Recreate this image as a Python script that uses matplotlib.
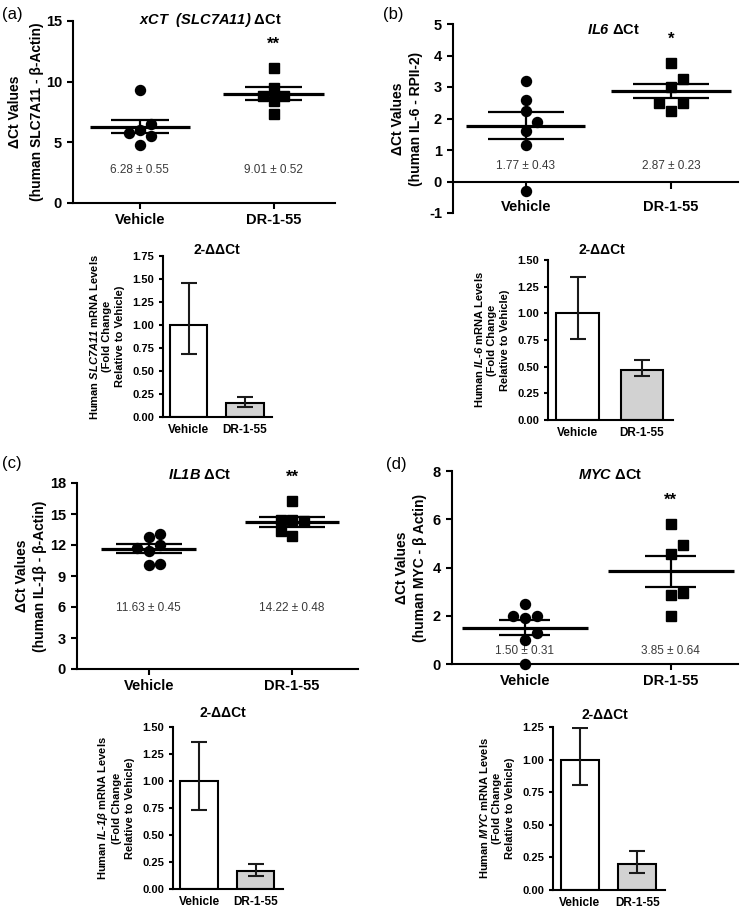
import matplotlib.pyplot as plt
import matplotlib.transforms as mtransforms
import numpy as np

plt.rcParams["font.family"] = ["Liberation Sans", "DejaVu Sans"]
plt.rcParams["font.weight"] = "bold"
plt.rcParams["axes.labelweight"] = "bold"
plt.rcParams["axes.unicode_minus"] = False
plt.rcParams["mathtext.fontset"] = "custom"
plt.rcParams["mathtext.rm"] = "Liberation Sans:bold"
plt.rcParams["mathtext.bf"] = "Liberation Sans:bold"
plt.rcParams["mathtext.it"] = "Liberation Sans:italic:bold"
plt.rcParams["mathtext.bfit"] = "Liberation Sans:italic:bold"

groups = ["Vehicle", "DR-1-55"]

# (a) xCT / SLC7A11
a_vehicle = [9.3, 6.0, 6.5, 5.8, 5.5, 4.8]
a_dr155 = [11.1, 9.5, 8.4, 8.8, 8.8, 7.3]
a_mean = [6.28, 9.01]
a_sem = [0.55, 0.52]
a_stars = ["", "**"]
a_fold = [1.00, 0.15]
a_fold_lo = [0.68, 0.105]
a_fold_hi = [1.46, 0.215]

# (b) IL6
b_vehicle = [3.2, 2.6, 2.25, 1.6, 1.9, 1.15, -0.3]
b_dr155 = [3.75, 3.0, 3.25, 2.25, 2.5, 2.5]
b_mean = [1.77, 2.87]
b_sem = [0.43, 0.23]
b_stars = ["", "*"]
b_fold = [1.00, 0.47]
b_fold_lo = [0.757, 0.408]
b_fold_hi = [1.344, 0.559]

# (c) IL1B
c_vehicle = [12.8, 13.05, 11.45, 12.0, 11.75, 10.05, 10.15]
c_dr155 = [16.25, 14.4, 14.3, 14.4, 12.85, 13.35]
c_mean = [11.63, 14.22]
c_sem = [0.45, 0.48]
c_stars = ["", "**"]
c_fold = [1.00, 0.17]
c_fold_lo = [0.73, 0.117]
c_fold_hi = [1.36, 0.23]

# (d) MYC
d_vehicle = [2.5, 1.9, 1.97, 1.97, 1.0, 1.3, 0.0]
d_dr155 = [5.8, 4.55, 4.92, 2.87, 2.95, 2.0]
d_mean = [1.50, 3.85]
d_sem = [0.31, 0.64]
d_stars = ["", "**"]
d_fold = [1.00, 0.20]
d_fold_lo = [0.807, 0.133]
d_fold_hi = [1.242, 0.30]

W, H = 749, 911
fig = plt.figure(figsize=(W / 100, H / 100), dpi=100)


def px_axes(rect):
    l, t, r, b = rect
    return fig.add_axes([l / W, 1 - b / H, (r - l) / W, (b - t) / H])


def swarm_offsets(values, thr, step=0.08):
    # spread points that would overlap vertically, like a prism scatter
    placed = []
    offs = []
    for v in values:
        for k in (0, 1, -1, 2, -2):
            if all(not (pk == k and abs(pv - v) < thr) for pv, pk in placed):
                break
        placed.append((v, k))
        offs.append(k * step)
    return np.array(offs)


def clean_axes(ax):
    ax.spines["top"].set_visible(False)
    ax.spines["right"].set_visible(False)
    ax.spines["left"].set_linewidth(1.5)
    ax.spines["bottom"].set_linewidth(1.5)


def scatter_panel(rect, vals, mean, sem, stars, yticks, ylabel, title, lay):
    ax = px_axes(rect)
    clean_axes(ax)
    ylim = (yticks[0], yticks[-1])
    thr = 10.5 * (ylim[1] - ylim[0]) / (rect[3] - rect[1])
    blend = mtransforms.blended_transform_factory(ax.transData, ax.transAxes)
    for i, (v, marker) in enumerate(zip(vals, ["o", "s"])):
        x = i + swarm_offsets(v, thr)
        ax.plot(x, v, marker, color="black", ms=7.2 if marker == "o" else 6.5,
                ls="none", clip_on=False, zorder=3)
        mw, sw = lay["mean_w"] / 2, lay["sem_w"] / 2
        ax.hlines(mean[i], i - mw, i + mw, color="black", lw=2.3, zorder=4)
        ax.hlines([mean[i] - sem[i], mean[i] + sem[i]], i - sw, i + sw,
                  color="black", lw=1.6, zorder=4)
        ax.vlines(i, mean[i] - sem[i], mean[i] + sem[i], color="black", lw=1.6, zorder=4)
        ax.text(i, lay["text_y"], f"{mean[i]:.2f} \u00b1 {sem[i]:.2f}", transform=blend,
                ha="center", va="center", fontsize=8.5, fontweight="normal", color="#3a3a3a")
        if stars[i]:
            ax.annotate(stars[i], (i, max(v)), xytext=(0, 17), textcoords="offset points",
                        ha="center", va="center", fontsize=12)
    ax.set_xlim(-0.5, 1.46)
    ax.set_ylim(*ylim)
    ax.set_yticks(yticks)
    ax.set_xticks([0, 1], groups)
    ax.tick_params(width=1.5, length=4.5, labelsize=10.5)
    ax.tick_params(axis="x", pad=2.5)
    ax.set_ylabel(ylabel, fontsize=10, linespacing=lay.get("ls", 1.4),
                  labelpad=lay.get("labelpad", 1))
    if ylim[0] < 0:
        ax.spines["bottom"].set_position(("data", 0))
        ax.tick_params(axis="x", pad=8.5, length=5)
    tx, ty = lay["title_xy"]
    fig.text(tx / W, 1 - ty / H, title, ha="center", va="center", fontsize=10.5)
    return ax


def bar_panel(rect, fold, lo, hi, yticks, ylabel, title_xy):
    ax = px_axes(rect)
    clean_axes(ax)
    x = np.arange(len(groups))
    ax.bar(x, fold, 0.66, color=["white", "#d2d2d2"], edgecolor="black", lw=1.5)
    ax.errorbar(x, fold, yerr=[np.subtract(fold, lo), np.subtract(hi, fold)], fmt="none",
                ecolor="#1a1a1a", elinewidth=1.5, capsize=6, capthick=1.5)
    ax.set_xlim(-0.46, 1.48)
    ax.set_ylim(0, yticks[-1])
    ax.set_yticks(yticks)
    ax.yaxis.set_major_formatter("{x:.2f}")
    ax.set_xticks(x, groups)
    ax.tick_params(axis="x", length=0, labelsize=8.5, pad=5)
    ax.tick_params(axis="y", labelsize=8, width=1.5, length=3)
    ax.set_ylabel(ylabel, fontsize=8, linespacing=1.35, labelpad=5)
    fig.text(title_xy[0] / W, 1 - title_xy[1] / H, "2-\u0394\u0394Ct",
             ha="center", va="center", fontsize=10)
    return ax


fold_tail = "\n(Fold Change\nRelative to Vehicle)"

scatter_panel((73, 21, 335, 203), [a_vehicle, a_dr155], a_mean, a_sem, a_stars,
              [0, 5, 10, 15], "\u0394Ct Values\n(human SLC7A11 - \u03b2-Actin)",
              r"$\mathbfit{xCT\ \ (SLC7A11)}$ " + "\u0394Ct",
              dict(mean_w=0.75, sem_w=0.43, text_y=0.18, title_xy=(210, 20), ls=1.75))
bar_panel((163, 256, 272, 417), a_fold, a_fold_lo, a_fold_hi,
          [0, 0.25, 0.5, 0.75, 1.0, 1.25, 1.5, 1.75],
          r"Human $\mathbfit{SLC7A11}$ mRNA Levels" + fold_tail, (217, 250))

scatter_panel((453, 24, 738, 213), [b_vehicle, b_dr155], b_mean, b_sem, b_stars,
              [-1, 0, 1, 2, 3, 4, 5], "\u0394Ct Values\n(human IL-6 - RPII-2)",
              r"$\mathbfit{IL6}$ " + "\u0394Ct",
              dict(mean_w=0.82, sem_w=0.52, text_y=0.25, title_xy=(613, 30), labelpad=4))
bar_panel((548, 260, 673, 420), b_fold, b_fold_lo, b_fold_hi,
          [0, 0.25, 0.5, 0.75, 1.0, 1.25, 1.5],
          r"Human $\mathbfit{IL}$-$\mathbfit{6}$ mRNA Levels" + fold_tail, (602, 250))

scatter_panel((77, 483, 358, 669), [c_vehicle, c_dr155], c_mean, c_sem, c_stars,
              [0, 3, 6, 9, 12, 15, 18], "\u0394Ct Values\n(human IL-1\u03b2 - \u03b2-Actin)",
              r"$\mathbfit{IL1B}$ " + "\u0394Ct",
              dict(mean_w=0.66, sem_w=0.46, text_y=0.33, title_xy=(200, 475), labelpad=2))
bar_panel((173, 727, 283, 889), c_fold, c_fold_lo, c_fold_hi,
          [0, 0.25, 0.5, 0.75, 1.0, 1.25, 1.5],
          r"Human $\mathbfit{IL}$-$\mathbfit{1\beta}$ mRNA Levels" + fold_tail, (223, 713))

scatter_panel((452, 471, 738, 664), [d_vehicle, d_dr155], d_mean, d_sem, d_stars,
              [0, 2, 4, 6, 8], "\u0394Ct Values\n(human MYC - \u03b2 Actin)",
              r"$\mathbfit{MYC}$ " + "\u0394Ct",
              dict(mean_w=0.86, sem_w=0.35, text_y=0.065, title_xy=(610, 475), labelpad=4))
bar_panel((553, 727, 665, 890), d_fold, d_fold_lo, d_fold_hi,
          [0, 0.25, 0.5, 0.75, 1.0, 1.25],
          r"Human $\mathbfit{MYC}$ mRNA Levels" + fold_tail, (605, 715))

for lbl, (x, y) in zip(["(a)", "(b)", "(c)", "(d)"], [(2, 15), (383, 15), (2, 463), (386, 465)]):
    fig.text(x / W, 1 - y / H, lbl, ha="left", va="center", fontsize=12, fontweight="normal")

fig.savefig("out.png", dpi=100)
